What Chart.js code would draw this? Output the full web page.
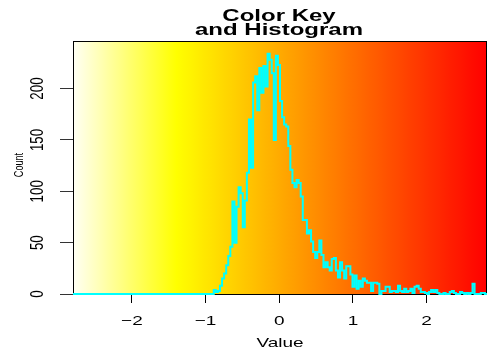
<!DOCTYPE html>
<html>
<head>
<meta charset="utf-8">
<script src="https://cdn.jsdelivr.net/npm/chart.js@4/dist/chart.umd.min.js"></script>
<style>
  body { margin: 0; background: #fff; }
  canvas { display: block; }
</style>
</head>
<body>
<canvas id="canvas_key" width="488" height="356"></canvas>
<script>
// colour key range and histogram bins
const keyMin = -2.8;
const keyMax = 2.82;
const binCount = 200;

// counts per bin, left to right
const counts = [
  0,0,0,0,0,0,0,0,0,0, 0,0,0,0,0,0,0,0,0,0,
  0,0,0,0,0,0,0,0,0,0, 0,0,0,0,0,0,0,0,0,0,
  0,0,0,0,0,0,0,0,0,0, 0,0,0,0,0,0,0,0,0,0,
  0,0,0,0,0,0,0,0,4,2, 3,8,15,20,28,37,46,90,50,85,
  104,98,65,91,118,170,123,206,212,179, 220,196,222,202,234,228,215,150,232,223,
  188,172,165,163,144,121,108,104,111,108, 95,72,72,59,62,51,41,35,41,52,
  38,26,31,26,23,34,35,23,16,31, 23,15,27,27,19,7,18,5,13,7,
  15,13,11,11,3,11,11,10,0,3, 3,7,7,2,3,3,2,8,3,2,
  5,2,3,5,1,7,8,5,2,2, 1,0,2,4,2,4,1,0,0,1,
  0,0,2,3,1,0,0,2,1,0, 1,0,1,10,0,0,0,1,1,0
];

const xTicks = [-2, -1, 0, 1, 2];
const yTicks = [0, 50, 100, 150, 200];
const titleLines = ['Color Key', 'and Histogram'];
const xTitle = 'Value';
const yTitle = 'Count';

// step line: one point per break, last count repeated at the right edge
const binWidth = (keyMax - keyMin) / binCount;
const histPoints = counts.map((c, i) => ({ x: keyMin + i * binWidth, y: c }));
histPoints.push({ x: keyMax, y: counts[counts.length - 1] });

// highest bar sits at 95% of the panel height
const yMax = Math.max(...counts) / 0.95;

// text in this panel is squashed vertically
const SQ = 0.7;
const FONT = '"Liberation Sans", Arial, sans-serif';

// reversed heat colours: white -> yellow over the first quarter, then yellow -> red
function keyColor(t) {
  if (t < 0.25) {
    const s = 0.04 + 0.96 * (t / 0.25);
    return 'rgb(255,255,' + Math.round(255 * (1 - s)) + ')';
  }
  const g = Math.round(255 * (1 - t) / 0.75);
  return 'rgb(255,' + g + ',0)';
}

const keyBackground = {
  id: 'keyBackground',
  beforeDatasetsDraw(chart) {
    const { ctx, chartArea: a } = chart;
    const grad = ctx.createLinearGradient(a.left, 0, a.right, 0);
    for (let k = 0; k <= 60; k++) {
      grad.addColorStop(k / 60, keyColor(k / 60));
    }
    ctx.save();
    ctx.fillStyle = grad;
    ctx.fillRect(a.left, a.top, a.right - a.left, a.bottom - a.top);
    ctx.strokeStyle = '#000';
    ctx.lineWidth = 1;
    ctx.strokeRect(a.left + 0.5, a.top + 0.5, a.right - a.left - 1, a.bottom - a.top);
    ctx.restore();
  }
};

function squashedText(ctx, text, x, y, rotate) {
  ctx.save();
  ctx.translate(x, y);
  if (rotate) {
    ctx.rotate(-Math.PI / 2);
    ctx.scale(SQ, 1);
  } else {
    ctx.scale(1, SQ);
  }
  ctx.fillText(text, 0, 0);
  ctx.restore();
}

const keyLabels = {
  id: 'keyLabels',
  afterDraw(chart) {
    const { ctx } = chart;
    const xs = chart.scales.x, ys = chart.scales.y;
    ctx.save();
    ctx.fillStyle = '#000';
    ctx.textAlign = 'center';
    ctx.textBaseline = 'alphabetic';

    ctx.font = 'bold 24px ' + FONT;
    squashedText(ctx, titleLines[0], 279, 21, false);
    squashedText(ctx, titleLines[1], 279, 35, false);

    ctx.font = '19px ' + FONT;
    xTicks.forEach(v => {
      squashedText(ctx, String(v).replace('-', '\u2212'), xs.getPixelForValue(v), 325, false);
    });
    squashedText(ctx, xTitle, 280, 347, false);

    yTicks.forEach(v => {
      squashedText(ctx, String(v), 43, ys.getPixelForValue(v), true);
    });
    ctx.font = '13px ' + FONT;
    squashedText(ctx, yTitle, 23, 165, true);
    ctx.restore();
  }
};

const data_hist = {
  datasets: [{
    data: histPoints,
    borderColor: '#00ffff',
    borderWidth: 2,
    stepped: true,
    pointRadius: 0,
    fill: false,
    clip: false
  }]
};

const config_hist = {
  type: 'line',
  data: data_hist,
  options: {
    responsive: false,
    animation: false,
    layout: { padding: { top: 41, right: 1, left: 0, bottom: 0 } },
    plugins: {
      legend: { display: false },
      tooltip: { enabled: false },
      title: { display: false }
    },
    scales: {
      x: {
        type: 'linear',
        min: keyMin,
        max: keyMax,
        afterBuildTicks: s => { s.ticks = xTicks.map(v => ({ value: v })); },
        afterFit: s => { s.height = 62; },
        ticks: { display: false },
        border: { display: false },
        grid: { drawOnChartArea: false, drawTicks: true, tickLength: 9, color: '#000' }
      },
      y: {
        type: 'linear',
        min: 0,
        max: yMax,
        afterBuildTicks: s => { s.ticks = yTicks.map(v => ({ value: v })); },
        afterFit: s => { s.width = 73; },
        ticks: { display: false },
        border: { display: false },
        grid: { drawOnChartArea: false, drawTicks: true, tickLength: 13, color: '#333' }
      }
    }
  },
  plugins: [keyBackground, keyLabels]
};

const canvas_key = document.getElementById('canvas_key');
const chart_key = new Chart(canvas_key, config_hist);
</script>
</body>
</html>
